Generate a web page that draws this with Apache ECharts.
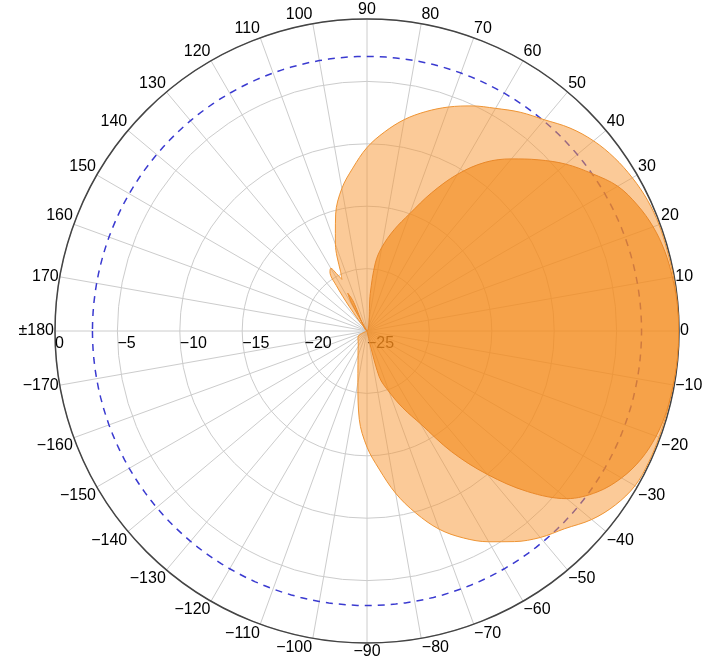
<!DOCTYPE html>
<html lang="ja">

<head>
    <meta charset="UTF-8">
    <title>指向性パターン</title>
    <script src="https://cdn.jsdelivr.net/npm/echarts@6/dist/echarts.min.js"></script>
</head>
<style>
    html,
    body {
        margin: 0;
        padding: 0;
        background: #fff;
    }

    .box {
        width: 705px;
        height: 662px;
    }
</style>

<body>
    <div class="box" id="myChart"></div>
    <script>
        // 外側のパターン（薄いオレンジ）
        const lightAngles = [-180, -170, -160, -155, -150, -140, -130, -120, -115, -110, -105, -100, -95, -90, -85, -80, -75, -70, -65, -60, -55, -50, -45, -40, -35, -30, -25, -20, -15, -10, -5, 0, 5, 10, 15, 20, 25, 30, 35, 40, 45, 50, 55, 60, 65, 70, 75, 80, 85, 90, 95, 100, 105, 108, 110, 112, 114, 116, 118, 120, 122, 124, 126, 128, 130, 140, 150, 160, 170, 180];
        const lightDb = [-25, -25, -25, -24.6, -24.2, -24.05, -23.9, -23.6, -23.3, -22.9, -22.2, -20.8, -17.9, -15.7, -13.9, -11.8, -9.9, -8.1, -6.7, -5.5, -4.4, -3.4, -2.6, -1.5, -0.7, -0.2, -0.1, -0.1, -0.1, -0.1, 0, 0, 0, -0.05, -0.1, -0.1, -0.2, -0.45, -0.8, -1.3, -2.0, -2.9, -3.6, -4.4, -5.1, -5.9, -6.8, -7.8, -9.0, -10.3, -11.9, -13.4, -15.3, -16.8, -17.6, -18.6, -19.8, -20.4, -19.8, -19.2, -19.4, -20.6, -22.6, -24.2, -25, -25, -25, -25, -25, -25];

        // 内側のパターン（濃いオレンジ）
        const darkAngles = [-180, -150, -120, -90, -80, -77, -75, -70, -65, -60, -55, -50, -45, -40, -35, -30, -25, -20, -15, -10, -5, 0, 5, 10, 15, 20, 25, 30, 35, 40, 45, 50, 55, 60, 65, 70, 75, 80, 83, 85, 87, 100, 112, 115, 117, 119, 122, 150, 180];
        const darkDb = [-25, -25, -25, -25, -25, -25, -21.2, -19.8, -18.2, -16.4, -13.2, -10.0, -6.8, -4.1, -2.5, -1.45, -0.75, -0.35, -0.15, -0.08, -0.03, 0, -0.05, -0.15, -0.3, -0.6, -1.1, -1.8, -3.0, -4.2, -5.6, -7.0, -8.5, -10.5, -12.8, -15.0, -16.6, -18.2, -19.5, -22.0, -25, -25, -25, -22.3, -21.6, -22.5, -25, -25, -25];

        // -3dB 基準円
        const refDb = -3;
        const refAngles = [];
        for (let a = -180; a <= 180; a += 2) refAngles.push(a);

        const toPairs = (angles, values) => angles.map((a, i) => [values[i], a]);

        const fontSize = 16;
        const fontFamily = "'Liberation Sans', Arial, sans-serif";
        // マイナス記号は幅の広い「−」で表示
        const fmt = v => (v < 0 ? '\u2212' + Math.abs(v) : String(v));

        // 上下付近のラベルは目盛り位置に左寄せ／右寄せ（中央揃えにしない）
        const ctx = document.createElement('canvas').getContext('2d');
        ctx.font = fontSize + 'px ' + fontFamily;
        const shifted = [80, 100, -80, -100];
        const rich = {};
        shifted.forEach(v => {
            const w = Math.ceil(ctx.measureText(fmt(v)).width);
            const toLeft = Math.cos(v * Math.PI / 180) < 0;
            rich['a' + (v < 0 ? 'm' : '') + Math.abs(v)] = {
                fontSize: fontSize,
                fontFamily: fontFamily,
                color: '#000',
                padding: toLeft ? [0, w, 0, 0] : [0, 0, 0, w]
            };
        });

        let myChart = echarts.init(document.getElementById('myChart'));

        let option = {
            animation: false,
            backgroundColor: '#fff',
            polar: {
                center: [367, 331],
                radius: 312
            },
            angleAxis: {
                type: 'value',
                min: -180,
                max: 180,
                interval: 10,
                startAngle: 180,
                clockwise: false,
                axisLine: {
                    lineStyle: {
                        color: '#444',
                        width: 1.5
                    }
                },
                axisTick: {
                    show: false
                },
                axisLabel: {
                    margin: 1,
                    color: '#000',
                    fontSize: fontSize,
                    fontFamily: fontFamily,
                    rich: rich,
                    formatter: function (v) {
                        if (v === 180 || v === -180) return '±180';
                        if (shifted.indexOf(v) >= 0) {
                            return '{a' + (v < 0 ? 'm' : '') + Math.abs(v) + '|' + fmt(v) + '}';
                        }
                        return fmt(v);
                    }
                },
                splitLine: {
                    lineStyle: {
                        color: '#cccccc',
                        width: 1
                    }
                }
            },
            radiusAxis: {
                type: 'value',
                min: -25,
                max: 0,
                interval: 5,
                axisLine: {
                    show: false
                },
                axisTick: {
                    show: false
                },
                axisLabel: {
                    align: 'left',
                    verticalAlign: 'top',
                    margin: 5,
                    color: '#000',
                    fontSize: fontSize,
                    fontFamily: fontFamily,
                    formatter: fmt
                },
                splitLine: {
                    lineStyle: {
                        color: '#cccccc',
                        width: 1
                    }
                }
            },
            series: [{
                    name: 'ref',
                    type: 'line',
                    coordinateSystem: 'polar',
                    symbol: 'none',
                    silent: true,
                    z: 1, // 塗りの下に描く
                    lineStyle: {
                        color: '#3a3ad0',
                        width: 1.5,
                        type: [7, 6]
                    },
                    data: refAngles.map(a => [refDb, a])
                },
                {
                    name: 'light',
                    type: 'line',
                    coordinateSystem: 'polar',
                    symbol: 'none',
                    smooth: 0.35,
                    lineStyle: {
                        color: '#ee9434',
                        width: 1
                    },
                    areaStyle: {
                        origin: 'start',
                        opacity: 1,
                        color: 'rgba(247,150,50,0.5)'
                    },
                    data: toPairs(lightAngles, lightDb)
                },
                {
                    name: 'dark',
                    type: 'line',
                    coordinateSystem: 'polar',
                    symbol: 'none',
                    smooth: 0.35,
                    lineStyle: {
                        color: '#e8882a',
                        width: 1
                    },
                    areaStyle: {
                        origin: 'start',
                        opacity: 1,
                        color: 'rgba(244,135,20,0.6)'
                    },
                    data: toPairs(darkAngles, darkDb)
                }
            ]
        };
        myChart.setOption(option, true);
    </script>
</body>

</html>
